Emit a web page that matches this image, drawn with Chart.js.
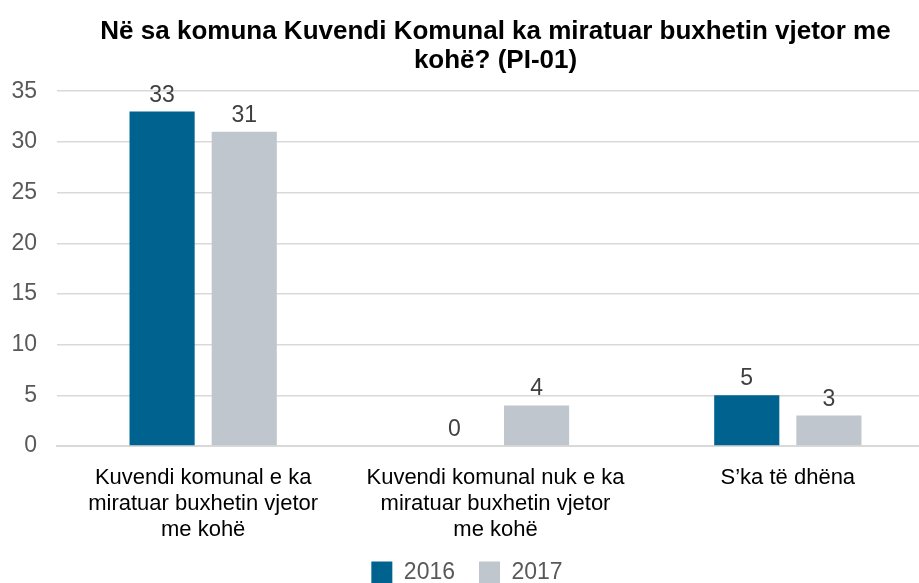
<!DOCTYPE html>
<html>
<head>
<meta charset="utf-8">
<script src="https://cdn.jsdelivr.net/npm/chart.js@4"></script>
<style>
    html, body { margin: 0; padding: 0; background: #fff; overflow: hidden; }
    #wrap { position: absolute; left: 0; top: 0; width: 940px; height: 594px; }
</style>
</head>
<body>
<div id="wrap"><canvas id="chart"></canvas></div>
<script>
// Chart values
const categories = [
    ['Kuvendi komunal e ka', 'miratuar buxhetin vjetor', 'me kohë'],
    ['Kuvendi komunal nuk e ka', 'miratuar buxhetin vjetor', 'me kohë'],
    ["S’ka të dhëna"]
];
const values2016 = [33, 0, 5];
const values2017 = [31, 4, 3];
const seriesNames = ['2016', '2017'];
const yTicks = [0, 5, 10, 15, 20, 25, 30, 35];

const chartTitle = ['Në sa komuna Kuvendi Komunal ka miratuar buxhetin vjetor me', 'kohë? (PI-01)'];

const FONT = '"Liberation Sans", Arial, sans-serif';

// draws the value above each bar
const valueLabels = {
    id: 'valueLabels',
    afterDatasetsDraw(chart) {
        const ctx = chart.ctx;
        ctx.save();
        ctx.font = '23px ' + FONT;
        ctx.fillStyle = '#404040';
        ctx.textAlign = 'center';
        ctx.textBaseline = 'alphabetic';
        chart.data.datasets.forEach((ds, i) => {
            chart.getDatasetMeta(i).data.forEach((bar, j) => {
                ctx.fillText(String(ds.data[j]), bar.x, bar.y - 10);
            });
        });
        ctx.restore();
    }
};

new Chart(document.getElementById('chart'), {
    type: 'bar',
    data: {
        labels: categories,
        datasets: [
            {
                label: seriesNames[0],
                data: values2016,
                backgroundColor: '#00628f',
                categoryPercentage: 0.562,
                barPercentage: 0.793
            },
            {
                label: seriesNames[1],
                data: values2017,
                backgroundColor: '#c0c6cd',
                categoryPercentage: 0.562,
                barPercentage: 0.793
            }
        ]
    },
    options: {
        responsive: true,
        maintainAspectRatio: false,
        animation: false,
        layout: { padding: { left: 0, right: 6, top: 0, bottom: 0 } },
        plugins: {
            title: {
                display: true,
                text: chartTitle,
                fullSize: false,
                color: '#000',
                font: { family: FONT, size: 26, weight: 'bold', lineHeight: 1.12 },
                padding: { top: 17, bottom: 16 }
            },
            legend: {
                position: 'bottom',
                labels: {
                    color: '#595959',
                    font: { family: FONT, size: 23 },
                    boxWidth: 21,
                    boxHeight: 22,
                    padding: 24
                }
            },
            tooltip: { enabled: false }
        },
        scales: {
            x: {
                afterFit: scale => { scale.height = 91; },
                grid: { display: false, drawTicks: false },
                border: { color: '#d9d9d9', width: 2 },
                ticks: {
                    color: '#000',
                    font: { family: FONT, size: 22, lineHeight: 1.18 },
                    maxRotation: 0,
                    autoSkip: false,
                    padding: 19
                }
            },
            y: {
                min: 0,
                max: 35,
                afterBuildTicks: scale => { scale.ticks = yTicks.map(v => ({ value: v })); },
                afterFit: scale => { scale.width = 57; },
                grid: { color: '#d9d9d9', lineWidth: 1.5, drawTicks: false },
                border: { display: false },
                ticks: {
                    color: '#595959',
                    font: { family: FONT, size: 23 },
                    padding: 20
                }
            }
        }
    },
    plugins: [valueLabels]
});
</script>
</body>
</html>
